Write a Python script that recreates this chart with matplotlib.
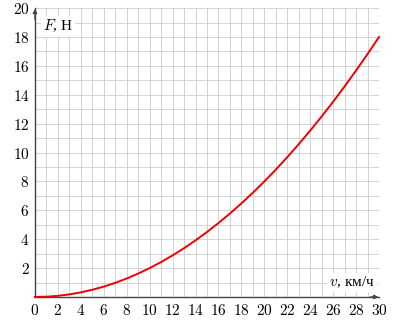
import numpy as np
import matplotlib.pyplot as plt

plt.rcParams['mathtext.fontset'] = 'cm'
plt.rcParams['font.family'] = ['Liberation Serif', 'DejaVu Serif']

# values
v = [0, 1, 2, 3, 4, 5, 6, 7, 8, 9, 10, 11, 12, 13, 14, 15,
     16, 17, 18, 19, 20, 21, 22, 23, 24, 25, 26, 27, 28, 29, 30]
F = [0.0, 0.02, 0.08, 0.18, 0.32, 0.5, 0.72, 0.98, 1.28, 1.62, 2.0, 2.42,
     2.88, 3.38, 3.92, 4.5, 5.12, 5.78, 6.48, 7.22, 8.0, 8.82, 9.68, 10.58,
     11.52, 12.5, 13.52, 14.58, 15.68, 16.82, 18.0]

xticks = list(range(0, 31, 2))
yticks = list(range(2, 21, 2))

fig = plt.figure(figsize=(3.95, 3.21), dpi=100)
ax = fig.add_axes([0.0886, 0.0748, 0.871, 0.9])

ax.set_xlim(0, 30)
ax.set_ylim(0, 20)
ax.set_xticks(range(0, 31), minor=True)
ax.set_yticks(range(0, 21), minor=True)
ax.grid(which='both', color='#cccccc', linewidth=0.6, zorder=0)
ax.set_axisbelow(True)

ax.plot(v, F, color='#ee0000', linewidth=1.4, zorder=3, clip_on=False)

ax.set_xticks(xticks)
ax.set_xticklabels([f'${t}$' for t in xticks], fontsize=11)
ax.set_yticks(yticks)
ax.set_yticklabels([f'${t}$' for t in yticks], fontsize=11)
ax.tick_params(which='both', length=0, pad=4)

for s in ['top', 'right']:
    ax.spines[s].set_visible(False)
for s in ['left', 'bottom']:
    ax.spines[s].set_color('#444444')
    ax.spines[s].set_linewidth(1.0)

# arrows at axis ends
ax.annotate('', xy=(0, 20.15), xytext=(0, 19.0),
            arrowprops=dict(arrowstyle='-|>', color='#444444', lw=1.0,
                            mutation_scale=6), annotation_clip=False)
ax.annotate('', xy=(30.2, 0), xytext=(29.0, 0),
            arrowprops=dict(arrowstyle='-|>', color='#444444', lw=1.0,
                            mutation_scale=6), annotation_clip=False)

box = dict(facecolor='white', edgecolor='none', pad=1.5)
ax.text(0.7, 18.75, '$F$, Н', fontsize=11, ha='left', va='center', bbox=box, zorder=4)
ax.text(29.6, 1.0, '$v$, км/ч', fontsize=11, ha='right', va='center', bbox=box, zorder=4)

fig.savefig('out.png', dpi=100)
